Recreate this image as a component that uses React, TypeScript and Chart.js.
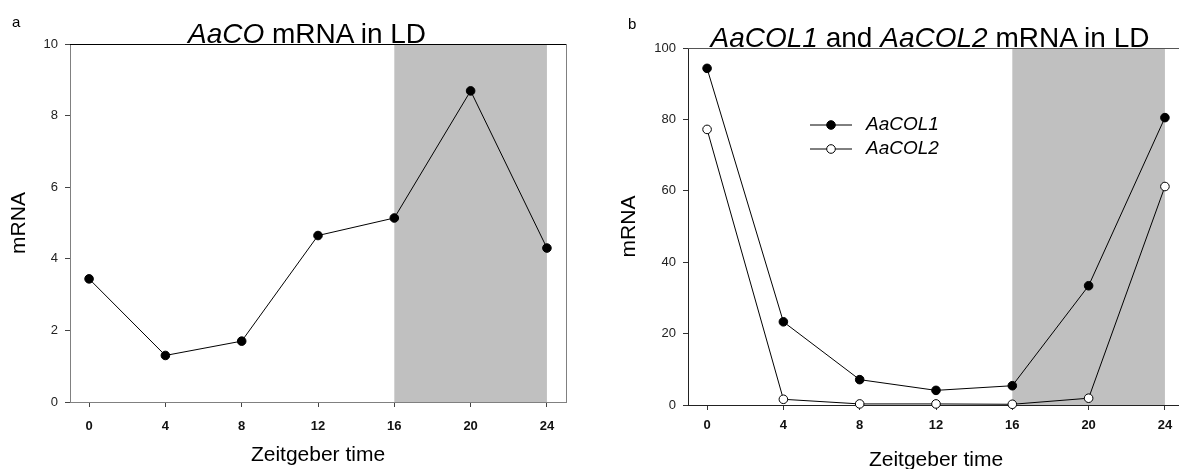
import React, { useEffect, useRef } from "react";
import { Chart, registerables } from "chart.js";

Chart.register(...registerables);

// ---------- data ----------
const times = [0, 4, 8, 12, 16, 20, 24];
const aacoValues = [3.44, 1.3, 1.7, 4.65, 5.14, 8.69, 4.3];
const aacol1Values = [94.3, 23.3, 7.1, 4.1, 5.4, 33.4, 80.5];
const aacol2Values = [77.2, 1.6, 0.3, 0.3, 0.2, 1.9, 61.2];
const xTickValues = [0, 4, 8, 12, 16, 20, 24];
const yTicksA = [0, 2, 4, 6, 8, 10];
const yTicksB = [0, 20, 40, 60, 80, 100];
const darkPeriod = [16, 24];
const xRange = [-1, 25];
const yRangeA = [0, 10];
const yRangeB = [0, 100];
const seriesNames = ["AaCOL1", "AaCOL2"];

const FAMILY = "'Liberation Sans', Arial, Helvetica, sans-serif";

const shadePlugin = {
  id: "shade",
  beforeDraw(chart: any, _args: any, opts: any) {
    const { ctx, chartArea, scales } = chart;
    const x0 = scales.x.getPixelForValue(opts.from);
    const x1 = scales.x.getPixelForValue(opts.to);
    ctx.save();
    ctx.fillStyle = opts.color;
    ctx.fillRect(x0, chartArea.top, x1 - x0, chartArea.bottom - chartArea.top);
    ctx.restore();
  },
};

const framePlugin = {
  id: "frame",
  beforeDatasetsDraw(chart: any, _args: any, opts: any) {
    const { ctx, chartArea } = chart;
    ctx.save();
    ctx.lineWidth = 1;
    if (opts.topColor) {
      ctx.strokeStyle = opts.topColor;
      ctx.beginPath();
      ctx.moveTo(chartArea.left, Math.round(chartArea.top) + 0.5);
      ctx.lineTo(chartArea.right, Math.round(chartArea.top) + 0.5);
      ctx.stroke();
    }
    if (opts.rightColor) {
      ctx.strokeStyle = opts.rightColor;
      ctx.beginPath();
      ctx.moveTo(Math.round(chartArea.right) + 0.5, chartArea.top);
      ctx.lineTo(Math.round(chartArea.right) + 0.5, chartArea.bottom);
      ctx.stroke();
    }
    ctx.restore();
  },
};

const lineLegendPlugin = {
  id: "lineLegend",
  afterDraw(chart: any, _args: any, opts: any) {
    if (!opts || !opts.display) return;
    const { ctx } = chart;
    ctx.save();
    chart.data.datasets.forEach((ds: any, i: number) => {
      const y = opts.y + i * opts.rowGap;
      ctx.strokeStyle = ds.borderColor;
      ctx.lineWidth = 1;
      ctx.beginPath();
      ctx.moveTo(opts.x, y);
      ctx.lineTo(opts.x + opts.lineLen, y);
      ctx.stroke();
      ctx.beginPath();
      ctx.arc(opts.x + opts.lineLen / 2, y, ds.pointRadius, 0, Math.PI * 2);
      ctx.fillStyle = ds.pointBackgroundColor;
      ctx.fill();
      ctx.strokeStyle = ds.pointBorderColor;
      ctx.stroke();
      ctx.fillStyle = "#000";
      ctx.font = `italic ${opts.fontSize}px ${FAMILY}`;
      ctx.textBaseline = "middle";
      ctx.textAlign = "left";
      ctx.fillText(ds.label, opts.x + opts.lineLen + opts.textGap, y);
    });
    ctx.restore();
  },
};

function toPoints(values: number[]) {
  return times.map((t, i) => ({ x: t, y: values[i] }));
}

function makeOptions(p: {
  yMin: number; yMax: number; yTicks: number[];
  yWidth: number; xHeight: number;
  padTop: number; padRight: number;
  axisColor: string; tickColor: string;
  yTitlePad: number; xTitlePad: number; xTickPad: number;
  topColor: string; rightColor: string | null;
  legend: any;
}) {
  return {
    responsive: false,
    animation: false,
    devicePixelRatio: 1,
    layout: { padding: { top: p.padTop, right: p.padRight, left: 0, bottom: 0 } },
    plugins: {
      legend: { display: false },
      tooltip: { enabled: false },
      title: { display: false },
      shade: { from: darkPeriod[0], to: darkPeriod[1], color: "#c0c0c0" },
      frame: { topColor: p.topColor, rightColor: p.rightColor },
      lineLegend: p.legend,
    },
    scales: {
      x: {
        type: "linear",
        min: xRange[0],
        max: xRange[1],
        afterBuildTicks: (s: any) => { s.ticks = xTickValues.map((v) => ({ value: v })); },
        afterFit: (s: any) => { s.height = p.xHeight; s.paddingLeft = 0; s.paddingRight = 0; },
        grid: { drawOnChartArea: false, drawTicks: true, tickLength: 5, color: p.tickColor },
        border: { display: true, color: p.axisColor, width: 1 },
        ticks: { padding: p.xTickPad, color: "#111", font: { size: 13, family: FAMILY, weight: "bold" }, maxRotation: 0 },
        title: { display: true, text: "Zeitgeber time", color: "#000", font: { size: 21, family: FAMILY }, padding: { top: 0, bottom: p.xTitlePad } },
      },
      y: {
        type: "linear",
        min: p.yMin,
        max: p.yMax,
        afterBuildTicks: (s: any) => { s.ticks = p.yTicks.map((v) => ({ value: v })); },
        afterFit: (s: any) => { s.width = p.yWidth; s.paddingTop = 0; s.paddingBottom = 0; },
        grid: { drawOnChartArea: false, drawTicks: true, tickLength: 5, color: p.tickColor },
        border: { display: true, color: p.axisColor, width: 1 },
        ticks: { padding: 7, color: "#222", font: { size: 13, family: FAMILY } },
        title: { display: true, text: "mRNA", color: "#000", font: { size: 21, family: FAMILY }, padding: { top: p.yTitlePad, bottom: 0 } },
      },
    },
  };
}

export default function App() {
  const leftRef = useRef<HTMLCanvasElement | null>(null);
  const rightRef = useRef<HTMLCanvasElement | null>(null);

  useEffect(() => {
    const left = new Chart(leftRef.current as HTMLCanvasElement, {
      type: "line",
      data: {
        datasets: [
          {
            label: "AaCO",
            data: toPoints(aacoValues),
            borderColor: "#000",
            borderWidth: 1,
            pointRadius: 4.3,
            pointBackgroundColor: "#000",
            pointBorderColor: "#000",
            pointBorderWidth: 1,
            tension: 0,
            clip: false,
          } as any,
        ],
      },
      options: makeOptions({
        yMin: yRangeA[0], yMax: yRangeA[1], yTicks: yTicksA,
        yWidth: 70, xHeight: 78, padTop: 44, padRight: 34,
        axisColor: "#808080", tickColor: "#444",
        yTitlePad: 7, xTitlePad: 12, xTickPad: 12,
        topColor: "#000", rightColor: "#808080",
        legend: { display: false },
      }) as any,
      plugins: [shadePlugin, framePlugin, lineLegendPlugin],
    });

    const right = new Chart(rightRef.current as HTMLCanvasElement, {
      type: "line",
      data: {
        datasets: [
          {
            label: seriesNames[0],
            data: toPoints(aacol1Values),
            borderColor: "#000",
            borderWidth: 1,
            pointRadius: 4.3,
            pointBackgroundColor: "#000",
            pointBorderColor: "#000",
            pointBorderWidth: 1,
            tension: 0,
            clip: false,
          } as any,
          {
            label: seriesNames[1],
            data: toPoints(aacol2Values),
            borderColor: "#000",
            borderWidth: 1,
            pointRadius: 4.3,
            pointBackgroundColor: "#fff",
            pointBorderColor: "#000",
            pointBorderWidth: 1,
            tension: 0,
            clip: false,
          } as any,
        ],
      },
      options: makeOptions({
        yMin: yRangeB[0], yMax: yRangeB[1], yTicks: yTicksB,
        yWidth: 88, xHeight: 75, padTop: 48, padRight: 16,
        axisColor: "#222", tickColor: "#333",
        yTitlePad: 17, xTitlePad: 7, xTickPad: 8,
        topColor: "#555", rightColor: null,
        legend: { display: true, x: 210, y: 125, rowGap: 24, lineLen: 42, textGap: 14, fontSize: 19 },
      }) as any,
      plugins: [shadePlugin, framePlugin, lineLegendPlugin],
    });

    return () => {
      left.destroy();
      right.destroy();
    };
  }, []);

  const textBase: React.CSSProperties = {
    position: "absolute",
    fontFamily: FAMILY,
    color: "#000",
    lineHeight: 1,
    whiteSpace: "nowrap",
    margin: 0,
  };

  return (
    <div style={{ position: "absolute", left: 0, top: 0, width: 1179, height: 469, overflow: "hidden", background: "#fff" }}>
      <canvas ref={leftRef} width={600} height={480} style={{ position: "absolute", left: 0, top: 0, width: 600, height: 480 }} />
      <canvas ref={rightRef} width={600} height={480} style={{ position: "absolute", left: 600, top: 0, width: 600, height: 480 }} />
      <div style={{ ...textBase, left: 12, top: 14, fontSize: 15 }}>a</div>
      <div style={{ ...textBase, left: 628, top: 16, fontSize: 15 }}>b</div>
      <div style={{ ...textBase, left: 307, top: 20, fontSize: 28, transform: "translateX(-50%)" }}>
        <i>AaCO</i> mRNA in LD
      </div>
      <div style={{ ...textBase, left: 930, top: 24, fontSize: 28, transform: "translateX(-50%)" }}>
        <i>AaCOL1</i> and <i>AaCOL2</i> mRNA in LD
      </div>
    </div>
  );
}
